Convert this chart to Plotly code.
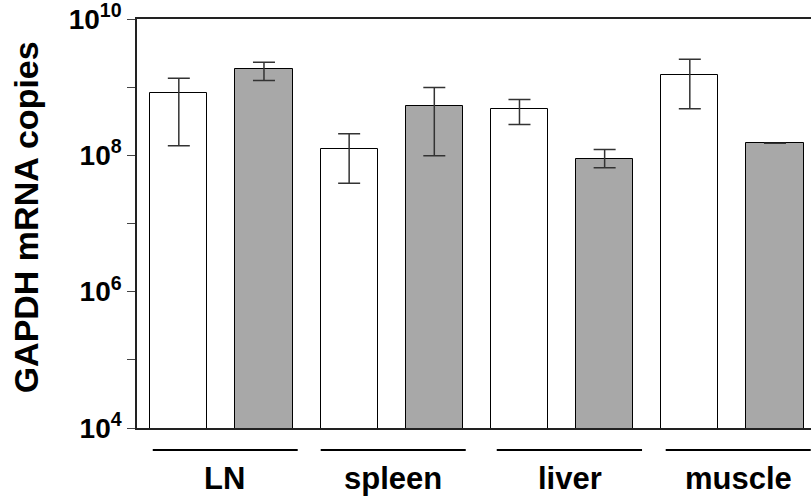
import plotly.graph_objects as go

categories = ["LN", "spleen", "liver", "muscle"]

# white bars (group 1) and gray bars (group 2), GAPDH mRNA copies
white_vals = [8.1e8, 1.22e8, 4.83e8, 1.51e9]
white_err_hi = [1.35e9, 2.07e8, 6.6e8, 2.56e9]
white_err_lo = [1.38e8, 3.9e7, 2.84e8, 4.83e8]

gray_vals = [1.87e9, 5.35e8, 8.98e7, 1.51e8]
gray_err_hi = [2.32e9, 9.9e8, 1.22e8, 1.51e8]
gray_err_lo = [1.25e9, 9.9e7, 6.55e7, 1.51e8]

major_ticks = [1e4, 1e6, 1e8, 1e10]
major_text = ["<b>10<sup>4</sup></b>", "<b>10<sup>6</sup></b>",
              "<b>10<sup>8</sup></b>", "<b>10<sup>10</sup></b>"]
minor_ticks = [1e5, 1e7, 1e9]

FONT = "Liberation Sans, Arial, sans-serif"

n = len(categories)
white_x = [2 * i for i in range(n)]
gray_x = [2 * i + 1 for i in range(n)]

fig = go.Figure()
fig.add_trace(go.Bar(
    x=white_x, y=white_vals, width=0.67,
    marker=dict(color="white", line=dict(color="black", width=1)),
    error_y=dict(type="data", symmetric=False,
                 array=[h - v for h, v in zip(white_err_hi, white_vals)],
                 arrayminus=[v - l for l, v in zip(white_err_lo, white_vals)],
                 color="#333333", thickness=1.5, width=11),
    showlegend=False,
))
fig.add_trace(go.Bar(
    x=gray_x, y=gray_vals, width=0.67,
    marker=dict(color="#a8a8a8", line=dict(color="black", width=1)),
    error_y=dict(type="data", symmetric=False,
                 array=[h - v for h, v in zip(gray_err_hi, gray_vals)],
                 arrayminus=[v - l for l, v in zip(gray_err_lo, gray_vals)],
                 color="#333333", thickness=1.5, width=11),
    showlegend=False,
))

# group underlines and labels
line_spans = [(-0.306, 1.396), (1.666, 3.369), (3.733, 5.439), (5.717, 7.42)]
label_x = [0.531, 2.51, 4.593, 6.567]
for (x0, x1), lx, cat in zip(line_spans, label_x, categories):
    fig.add_shape(type="line", xref="x", yref="paper", x0=x0, x1=x1,
                  y0=-0.0539, y1=-0.0539, line=dict(color="black", width=2))
    fig.add_annotation(x=lx, y=-0.1225, xref="x", yref="paper", text="<b>" + cat + "</b>",
                       showarrow=False, yanchor="middle", xanchor="center",
                       font=dict(family=FONT, size=31, color="black"))

# y-axis title
fig.add_annotation(x=-0.1647, y=0.515, xref="paper", yref="paper",
                   text="<b>GAPDH mRNA copies</b>", textangle=-90, showarrow=False,
                   xanchor="center", yanchor="middle",
                   font=dict(family=FONT, size=34, color="black"))

fig.update_layout(
    width=811, height=499,
    margin=dict(l=137, r=0, t=19, b=71),
    paper_bgcolor="white", plot_bgcolor="white",
    bargap=0,
    font=dict(family=FONT, color="black"),
    xaxis=dict(range=[-0.491, 7.423], showticklabels=False, ticks="",
               showgrid=False, zeroline=False, showline=True, linecolor="#222222",
               linewidth=1.5, mirror=True, automargin=False),
    yaxis=dict(type="log", range=[4, 10.0001], tickmode="array",
               tickvals=major_ticks, ticktext=major_text, ticklabeloverflow="allow",
               ticks="outside", ticklen=8, tickcolor="#444444", tickwidth=1,
               minor=dict(tickmode="array", tickvals=minor_ticks, ticks="outside",
                          ticklen=8, tickcolor="#444444", tickwidth=1, showgrid=False),
               showgrid=False, zeroline=False, showline=True, linecolor="#222222",
               linewidth=1.5, mirror=False, automargin=False,
               tickfont=dict(family=FONT, size=28, color="black")),
)

fig.write_html("out.html", config={"displayModeBar": False},
               post_script="document.body.style.margin='0';document.body.style.padding='0';")
